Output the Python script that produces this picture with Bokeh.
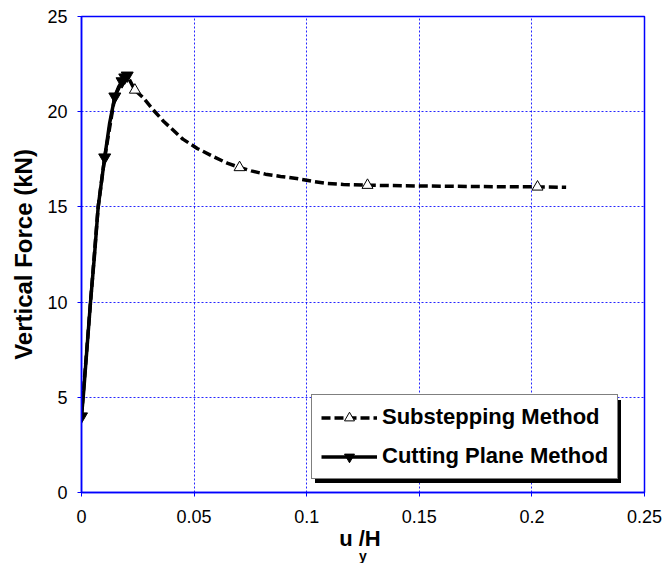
from bokeh.plotting import figure
from bokeh.models import (Range1d, FixedTicker, Legend, LegendItem, Title)
from bokeh.embed import file_html
from bokeh.resources import INLINE

# ---- data ----
# Cutting Plane Method (solid line, filled down-triangles)
cut_x = [0.0, 0.001, 0.004, 0.0058, 0.0074, 0.0103, 0.0125, 0.0148, 0.0165, 0.0180, 0.0192, 0.0203]
cut_y = [4.0, 5.35, 10.0, 12.5, 15.0, 17.6, 19.4, 20.8, 21.3, 21.6, 21.8, 21.9]
cut_mx = [0.0, 0.0103, 0.0148, 0.0180, 0.0192, 0.0203]
cut_my = [4.0, 17.6, 20.8, 21.6, 21.8, 21.9]

# Substepping Method (dashed line, open up-triangles)
sub_x = [0.0, 0.004, 0.0074, 0.0103, 0.0148, 0.0180, 0.0203, 0.0237, 0.0273, 0.0318,
         0.0364, 0.0450, 0.0514, 0.0587, 0.0647, 0.0702, 0.0754, 0.0817, 0.0884, 0.0955,
         0.1027, 0.1090, 0.1163, 0.1270, 0.1500, 0.1750, 0.2025, 0.2152]
sub_y = [4.0, 10.0, 15.0, 17.6, 20.8, 21.6, 21.9, 21.14, 20.75, 20.1,
         19.5, 18.56, 18.07, 17.63, 17.3, 17.07, 16.89, 16.72, 16.6, 16.49,
         16.34, 16.23, 16.18, 16.14, 16.10, 16.07, 16.05, 16.03]
sub_mx = [0.0237, 0.0702, 0.1270, 0.2025]
sub_my = [21.14, 17.07, 16.14, 16.05]

x_ticks = [0, 0.05, 0.1, 0.15, 0.2, 0.25]
x_tick_labels = ["0", "0.05", "0.1", "0.15", "0.2", "0.25"]
y_ticks = [0, 5, 10, 15, 20, 25]

FONT = "Liberation Sans"
BLUE = "#0000ff"

p = figure(width=663, height=563, output_backend="svg", toolbar_location=None,
           x_range=Range1d(0, 0.25), y_range=Range1d(0, 25),
           min_border_left=81, min_border_right=19, min_border_top=16, min_border_bottom=71)
p.background_fill_color = "white"
p.border_fill_color = "white"
p.outline_line_color = BLUE
p.outline_line_width = 1.5

# axes
p.xaxis.ticker = FixedTicker(ticks=x_ticks)
p.yaxis.ticker = FixedTicker(ticks=y_ticks)
p.xaxis.major_label_overrides = {t: s for t, s in zip(x_ticks, x_tick_labels)}
for ax in (p.xaxis, p.yaxis):
    ax.axis_line_color = BLUE
    ax.axis_line_width = 1.5
    ax.major_tick_line_color = BLUE
    ax.major_tick_out = 4
    ax.major_tick_in = 0
    ax.minor_tick_line_color = None
    ax.major_label_text_font = FONT
    ax.major_label_text_font_size = "18px"
    ax.major_label_text_color = "black"
p.xaxis.major_label_standoff = 13
p.yaxis.major_label_standoff = 10

p.yaxis.axis_label = "Vertical Force (kN)"
p.yaxis.axis_label_text_font = FONT
p.yaxis.axis_label_text_font_style = "bold"
p.yaxis.axis_label_text_font_size = "24px"
p.yaxis.axis_label_standoff = 7
p.yaxis.axis_label_text_color = "black"

# x-axis label "u_y/H": main text on the axis, subscript as a small title below
p.xaxis.axis_label = "u  /H"
p.xaxis.axis_label_text_font = FONT
p.xaxis.axis_label_text_font_style = "bold"
p.xaxis.axis_label_text_font_size = "22px"
p.xaxis.axis_label_standoff = 0
p.xaxis.axis_label_text_color = "black"
p.add_layout(Title(text="y", align="center", offset=-7.5, standoff=-15,
                   text_font=FONT, text_font_style="bold", text_font_size="14px",
                   text_color="black"), "below")

# grid
for g in (p.xgrid, p.ygrid):
    g.grid_line_color = BLUE
    g.grid_line_alpha = 0.85
    g.grid_line_width = 1
    g.grid_line_dash = "2 2"

# series
sub_line = p.line(sub_x, sub_y, line_color="black", line_width=3.5, line_dash="9 4")
sub_mark = p.scatter(sub_mx, sub_my, marker="triangle", size=11,
                     fill_color="white", line_color="black", line_width=1)
cut_line = p.line(cut_x, cut_y, line_color="black", line_width=3.5)
cut_mark = p.scatter(cut_mx, cut_my, marker="inverted_triangle", size=12,
                     fill_color="black", line_color="black")

legend_labels = ["Substepping Method", "Cutting Plane Method"]
legend_renderers = [[sub_line, sub_mark], [cut_line, cut_mark]]

def make_legend(loc, shadow=False):
    its = [LegendItem(label=(" " if shadow else lab), renderers=rs)
           for lab, rs in zip(legend_labels, legend_renderers)]
    lg = Legend(items=its, location=loc, orientation="vertical",
                glyph_width=56, glyph_height=25, label_height=25, label_width=225,
                label_standoff=5, padding=9, spacing=13, margin=0,
                label_text_font=FONT, label_text_font_style="bold",
                label_text_font_size="22px", label_text_color="black",
                border_line_color="black", border_line_width=1.5,
                background_fill_color="black" if shadow else "white",
                background_fill_alpha=1.0)
    return lg

p.add_layout(make_legend((234, 9), shadow=True), "center")
p.add_layout(make_legend((230, 13)), "center")

open("out.html", "w").write(file_html(p, INLINE))
